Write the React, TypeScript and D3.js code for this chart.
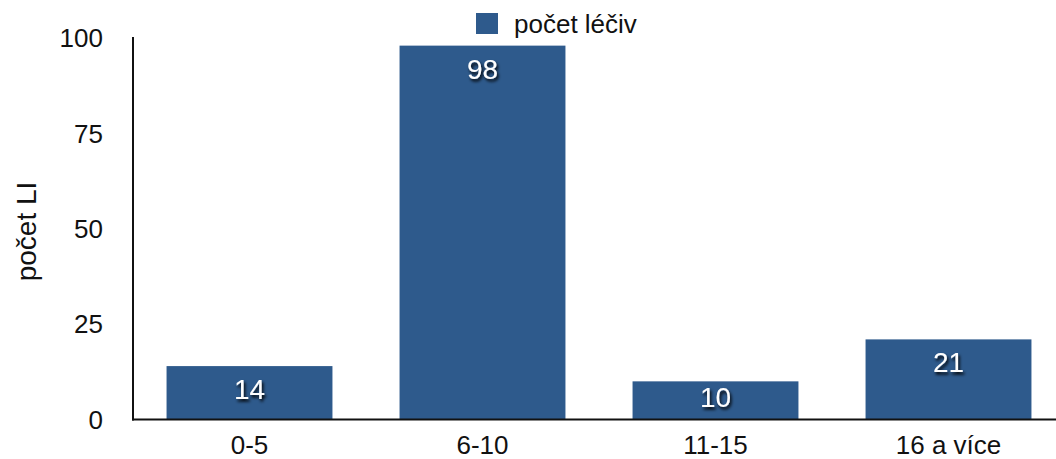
import React from "react";
import * as d3 from "d3";

const categories = ["0-5", "6-10", "11-15", "16 a více"];
const values = [14, 98, 10, 21];
const yTicks = [0, 25, 50, 75, 100];
const seriesName = "počet léčiv";
const yTitle = "počet LI";

const W = 1056;
const H = 459;
const FONT = "'Liberation Sans', Arial, Helvetica, sans-serif";
const BAR = "#2e5a8c";

export default function App() {
  const x = d3
    .scaleBand<string>()
    .domain(categories)
    .range([133, 1065])
    .paddingInner(0.288)
    .paddingOuter(0.144);
  const y = d3.scaleLinear().domain([0, 100]).range([419.5, 38]);

  return (
    <svg
      width={W}
      height={H}
      style={{ position: "absolute", left: 0, top: 0, background: "#fff" }}
      fontFamily={FONT}
    >
      <defs>
        <filter id="lblShadow" x="-30%" y="-30%" width="160%" height="160%">
          <feDropShadow dx="1.5" dy="2.5" stdDeviation="1.4" floodColor="#000" floodOpacity="1" />
        </filter>
      </defs>

      {/* legend */}
      <rect x={476} y={13} width={22} height={21} fill={BAR} />
      <text x={514} y={33} fontSize={26} fill="#111">
        {seriesName}
      </text>

      {/* bars */}
      {categories.map((c, i) => (
        <rect
          key={c}
          x={x(c)}
          y={y(values[i])}
          width={x.bandwidth()}
          height={y(0) - y(values[i])}
          fill={BAR}
        />
      ))}

      {/* value labels */}
      {categories.map((c, i) => {
        const cy = Math.min(y(values[i]) + 23, y(0) - 23);
        return (
          <text
            key={c}
            x={(x(c) as number) + x.bandwidth() / 2}
            y={cy}
            dy="0.36em"
            textAnchor="middle"
            fontSize={28}
            fill="#fff"
            filter="url(#lblShadow)"
          >
            {values[i]}
          </text>
        );
      })}

      {/* axes */}
      <line x1={133} x2={133} y1={37} y2={420.5} stroke="#111" strokeWidth={2} />
      <line x1={132} x2={W} y1={y(0)} y2={y(0)} stroke="#111" strokeWidth={2} />

      {yTicks.map((t) => (
        <text key={t} x={103} y={y(t)} dy="0.36em" textAnchor="end" fontSize={26} fill="#111">
          {t}
        </text>
      ))}

      {categories.map((c) => (
        <text
          key={c}
          x={(x(c) as number) + x.bandwidth() / 2}
          y={454}
          textAnchor="middle"
          fontSize={26}
          fill="#111"
        >
          {c}
        </text>
      ))}

      <text
        transform={`translate(36,231.5) rotate(-90)`}
        textAnchor="middle"
        fontSize={28}
        fill="#111"
      >
        {yTitle}
      </text>
    </svg>
  );
}
